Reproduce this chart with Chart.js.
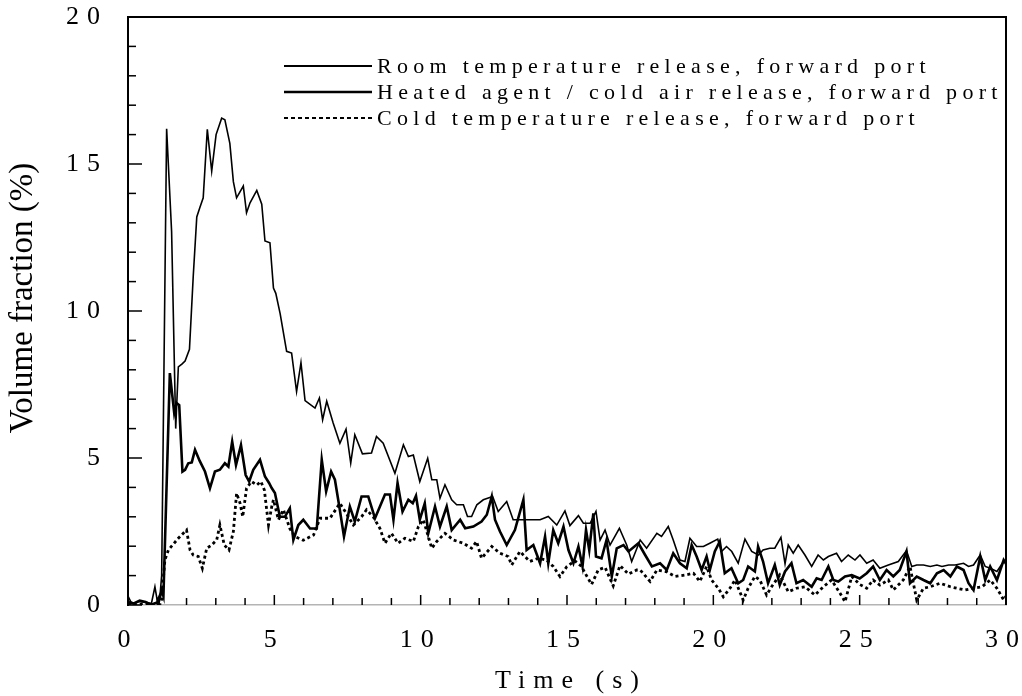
<!DOCTYPE html>
<html lang="en">
<head>
    <meta charset="UTF-8">
    <title>Volume fraction vs time</title>
    <script src="https://cdn.jsdelivr.net/npm/chart.js"></script>
    <style>
        html, body { margin: 0; padding: 0; background: #fff; }
        #wrap { width: 1022px; height: 696px; }
    </style>
</head>
<body>
    <div id="wrap"><canvas id="chart" width="1022" height="696"></canvas></div>

    <script>
// Series: time (s) and volume fraction (%)
const roomTime = [0, 0.1, 0.2, 0.35, 0.5, 0.65, 0.8, 0.92, 1.0, 1.1, 1.15, 1.32, 1.49, 1.63, 1.72, 1.85, 1.95, 2.1, 2.23, 2.35, 2.45, 2.57, 2.71, 2.86, 3.01, 3.2, 3.31, 3.48, 3.6, 3.71, 3.94, 4.05, 4.17, 4.4, 4.57, 4.68, 4.85, 4.97, 5.05, 5.2, 5.42, 5.59, 5.76, 5.91, 6.05, 6.39, 6.54, 6.65, 6.79, 7.01, 7.24, 7.45, 7.61, 7.75, 8.01, 8.32, 8.49, 8.72, 9.12, 9.41, 9.58, 9.75, 9.97, 10.24, 10.38, 10.55, 10.66, 10.83, 11.06, 11.23, 11.46, 11.6, 11.74, 11.92, 12.14, 12.46, 12.65, 12.94, 13.16, 13.39, 13.68, 14.08, 14.36, 14.65, 14.93, 15.1, 15.39, 15.56, 15.79, 15.99, 16.13, 16.3, 16.47, 16.79, 17.04, 17.21, 17.5, 17.72, 18.07, 18.23, 18.46, 18.63, 18.86, 19.03, 19.2, 19.43, 19.66, 19.88, 20.15, 20.28, 20.45, 20.63, 20.85, 21.08, 21.31, 21.54, 21.7, 21.93, 22.1, 22.31, 22.45, 22.56, 22.73, 22.9, 23.13, 23.36, 23.58, 23.76, 23.93, 24.21, 24.38, 24.61, 24.84, 25.01, 25.24, 25.46, 25.69, 25.98, 26.32, 26.6, 26.78, 26.95, 27.18, 27.41, 27.64, 27.81, 28.04, 28.26, 28.55, 28.72, 28.89, 29.12, 29.29, 29.46, 29.69, 29.92, 30];
const roomVals = [0.3, 0.1, 0.05, 0.12, 0.1, 0.08, 0.05, 0.62, 0.15, 0.4, 1.0, 16.2, 12.7, 6.0, 8.1, 8.2, 8.3, 8.7, 11.2, 13.2, 13.5, 13.85, 16.18, 14.76, 16.0, 16.56, 16.5, 15.7, 14.4, 13.85, 14.25, 13.34, 13.68, 14.1, 13.63, 12.38, 12.32, 10.78, 10.6, 9.9, 8.63, 8.57, 7.26, 8.24, 6.95, 6.7, 7.04, 6.3, 6.93, 6.19, 5.5, 5.98, 4.83, 5.79, 5.14, 5.17, 5.73, 5.5, 4.48, 5.45, 5.05, 5.1, 4.2, 4.99, 4.26, 4.26, 3.63, 4.09, 3.58, 3.41, 3.41, 3.01, 3.01, 3.41, 3.58, 3.69, 3.18, 3.52, 2.9, 2.9, 2.9, 2.9, 3.01, 2.72, 3.2, 2.7, 3.04, 2.78, 2.78, 3.18, 2.21, 2.55, 2.04, 2.61, 2.04, 1.48, 2.21, 1.93, 2.44, 2.33, 2.67, 2.21, 1.53, 1.48, 2.27, 1.99, 1.99, 2.1, 2.24, 1.82, 1.99, 1.82, 1.42, 2.24, 1.82, 1.7, 1.87, 1.93, 1.93, 2.3, 1.4, 2.04, 1.76, 2.04, 1.7, 1.31, 1.7, 1.53, 1.65, 1.76, 1.48, 1.7, 1.53, 1.7, 1.42, 1.53, 1.25, 1.36, 1.48, 1.85, 1.31, 1.36, 1.36, 1.31, 1.36, 1.31, 1.36, 1.36, 1.42, 1.31, 1.36, 1.7, 1.31, 1.25, 1.14, 1.48, 1.5];

const heatedTime = [0, 0.2, 0.4, 0.6, 0.8, 0.9, 1.05, 1.15, 1.21, 1.43, 1.58, 1.66, 1.75, 1.86, 1.95, 2.06, 2.18, 2.29, 2.45, 2.63, 2.8, 2.97, 3.14, 3.31, 3.43, 3.56, 3.69, 3.86, 4.02, 4.14, 4.28, 4.51, 4.68, 4.82, 4.91, 5.02, 5.19, 5.36, 5.53, 5.65, 5.82, 5.99, 6.22, 6.45, 6.62, 6.77, 6.94, 7.07, 7.22, 7.38, 7.58, 7.75, 7.98, 8.21, 8.44, 8.78, 8.95, 9.07, 9.21, 9.38, 9.58, 9.73, 9.84, 9.97, 10.14, 10.26, 10.49, 10.66, 10.89, 11.06, 11.35, 11.52, 11.8, 12.08, 12.26, 12.43, 12.54, 12.71, 12.94, 13.22, 13.51, 13.62, 13.85, 14.08, 14.25, 14.36, 14.53, 14.7, 14.88, 15.05, 15.22, 15.39, 15.53, 15.65, 15.76, 15.9, 15.99, 16.18, 16.35, 16.53, 16.7, 16.93, 17.1, 17.44, 17.67, 17.9, 18.18, 18.41, 18.63, 18.86, 19.09, 19.26, 19.43, 19.6, 19.77, 19.88, 20.05, 20.22, 20.39, 20.62, 20.85, 21.02, 21.19, 21.42, 21.53, 21.7, 21.87, 22.1, 22.27, 22.45, 22.67, 22.84, 23.07, 23.36, 23.53, 23.7, 23.93, 24.1, 24.27, 24.5, 24.73, 25.0, 25.24, 25.46, 25.69, 25.92, 26.15, 26.37, 26.6, 26.72, 26.95, 27.18, 27.41, 27.64, 27.87, 28.1, 28.32, 28.55, 28.72, 28.89, 29.12, 29.29, 29.46, 29.69, 29.92, 30];
const heatedVals = [0.1, 0.05, 0.15, 0.1, 0.0, 0.05, 0.1, 0.5, 0.3, 7.89, 6.53, 6.87, 6.8, 4.54, 4.6, 4.82, 4.85, 5.28, 4.9, 4.54, 3.97, 4.54, 4.6, 4.82, 4.71, 5.56, 4.76, 5.44, 4.42, 4.2, 4.6, 4.94, 4.37, 4.15, 3.98, 3.81, 3.0, 3.0, 3.29, 2.21, 2.72, 2.9, 2.6, 2.6, 4.94, 3.86, 4.54, 4.26, 3.35, 2.33, 3.35, 2.84, 3.69, 3.69, 2.95, 3.76, 3.76, 2.9, 4.15, 3.18, 3.58, 3.46, 3.71, 2.9, 3.46, 2.44, 3.35, 2.67, 3.35, 2.55, 2.9, 2.61, 2.67, 2.84, 3.07, 3.69, 2.9, 2.5, 2.04, 2.55, 3.58, 1.87, 2.04, 1.42, 2.33, 1.42, 2.55, 2.1, 2.67, 1.87, 1.42, 1.99, 1.31, 2.55, 1.87, 3.12, 1.65, 1.59, 2.21, 0.97, 1.93, 2.04, 1.82, 2.1, 1.7, 1.31, 1.42, 1.19, 1.76, 1.42, 1.25, 2.04, 1.65, 1.19, 1.65, 1.19, 1.82, 2.16, 1.08, 1.25, 0.74, 0.85, 1.31, 1.14, 1.99, 1.48, 0.74, 1.36, 0.68, 1.14, 1.42, 0.74, 0.85, 0.62, 0.91, 0.85, 1.31, 0.85, 0.8, 0.97, 1.02, 0.9, 1.08, 1.31, 0.85, 1.19, 0.97, 1.19, 1.82, 0.74, 0.97, 0.85, 0.74, 1.08, 1.19, 0.97, 1.31, 1.19, 0.74, 0.51, 1.65, 0.85, 1.31, 0.85, 1.53, 1.4];

const coldTime = [0, 0.3, 0.6, 0.9, 1.1, 1.15, 1.26, 1.38, 1.49, 1.72, 2.0, 2.12, 2.23, 2.4, 2.54, 2.69, 2.86, 3.03, 3.14, 3.29, 3.45, 3.6, 3.71, 3.83, 3.92, 4.05, 4.22, 4.4, 4.54, 4.66, 4.8, 4.91, 4.97, 5.14, 5.31, 5.53, 5.7, 5.99, 6.34, 6.56, 6.9, 7.24, 7.47, 7.7, 7.98, 8.15, 8.38, 8.61, 8.78, 9.0, 9.23, 9.46, 9.75, 9.92, 10.09, 10.38, 10.55, 10.83, 11.12, 11.46, 11.74, 11.91, 12.08, 12.43, 12.71, 12.99, 13.11, 13.39, 13.73, 14.02, 14.3, 14.53, 14.76, 14.99, 15.27, 15.5, 15.62, 15.84, 16.07, 16.3, 16.58, 16.81, 17.1, 17.38, 17.5, 17.84, 18.07, 18.41, 18.69, 19.03, 19.32, 19.54, 19.77, 19.94, 20.17, 20.34, 20.57, 20.74, 21.02, 21.19, 21.42, 21.59, 21.82, 21.99, 22.27, 22.56, 22.84, 23.13, 23.47, 23.76, 24.04, 24.33, 24.5, 24.73, 25.0, 25.24, 25.46, 25.69, 25.98, 26.15, 26.49, 26.72, 26.95, 27.18, 27.41, 27.75, 28.1, 28.32, 28.61, 28.89, 29.18, 29.46, 29.69, 29.92, 30];
const coldVals = [0.05, 0.0, 0.05, 0.0, 0.05, 0.2, 1.53, 1.87, 2.0, 2.27, 2.55, 1.87, 1.7, 1.65, 1.25, 1.93, 2.04, 2.21, 2.72, 2.04, 1.87, 2.5, 3.8, 3.46, 3.0, 3.97, 4.2, 4.08, 4.2, 3.91, 2.72, 3.34, 3.58, 2.9, 3.24, 2.6, 2.33, 2.2, 2.38, 2.95, 2.95, 3.46, 3.1, 2.72, 3.0, 3.24, 3.0, 2.6, 2.1, 2.44, 2.1, 2.27, 2.16, 2.66, 2.9, 1.93, 2.16, 2.44, 2.21, 2.1, 1.93, 2.16, 1.59, 1.99, 1.76, 1.65, 1.36, 1.82, 1.48, 1.59, 1.53, 1.31, 0.97, 1.3, 1.5, 1.31, 1.08, 0.7, 1.2, 1.28, 0.65, 1.34, 1.05, 1.19, 1.19, 0.8, 1.19, 1.13, 0.97, 1.02, 1.08, 0.8, 1.31, 0.85, 0.57, 0.28, 0.57, 0.85, 0.17, 0.57, 0.97, 0.85, 0.34, 0.62, 1.02, 0.45, 0.57, 0.62, 0.34, 0.62, 0.85, 0.4, 0.11, 0.97, 0.7, 0.57, 0.85, 0.68, 0.85, 0.51, 0.85, 1.31, 0.17, 0.57, 0.62, 0.74, 0.62, 0.57, 0.51, 0.57, 0.62, 0.85, 0.57, 0.17, 0.3];

const seriesNames = [
    'Room temperature release, forward port',
    'Heated agent / cold air release, forward port',
    'Cold temperature release, forward port'
];

const xTickValues = [0, 5, 10, 15, 20, 25, 30];
const yTickValues = [0, 5, 10, 15, 20];

function toPoints(times, vals) {
    return times.map((t, i) => ({ x: t, y: vals[i] }));
}

// keep the plot box where the figure has it
function fixSize(scale, w, h) {
    if (w) scale.width = w;
    if (h) scale.height = h;
    scale.paddingLeft = 0;
    scale.paddingRight = 0;
    scale.paddingTop = 0;
    scale.paddingBottom = 0;
}

// Inward tick marks, box frame, axis titles and legend
const decorPlugin = {
    id: 'decor',
    beforeDraw(chart) {
        chart.ctx.letterSpacing = '8px';
    },
    afterDraw(chart) {
        const ctx = chart.ctx;
        const area = chart.chartArea;
        const xs = chart.scales.x;
        const ys = chart.scales.y;
        ctx.save();
        ctx.letterSpacing = '0px';
        ctx.strokeStyle = '#000';

        // frame: top and right
        ctx.lineWidth = 2;
        ctx.beginPath();
        ctx.moveTo(area.left, area.top);
        ctx.lineTo(area.right, area.top);
        ctx.lineTo(area.right, area.bottom);
        ctx.stroke();

        // y ticks every 1, longer at labelled values
        ctx.lineWidth = 1.5;
        for (let v = 0; v <= 20; v++) {
            const y = ys.getPixelForValue(v);
            const len = v % 5 === 0 ? 14 : 8;
            ctx.beginPath();
            ctx.moveTo(area.left, y);
            ctx.lineTo(area.left + len, y);
            ctx.stroke();
        }
        // x ticks every 1 s
        for (let t = 0; t <= 30; t++) {
            const x = xs.getPixelForValue(t);
            const len = t % 5 === 0 ? 10 : 7;
            ctx.beginPath();
            ctx.moveTo(x, area.bottom);
            ctx.lineTo(x, area.bottom - len);
            ctx.stroke();
        }

        // axis titles
        ctx.fillStyle = '#000';
        ctx.font = '33px "Liberation Serif"';
        ctx.textAlign = 'center';
        ctx.textBaseline = 'middle';
        ctx.save();
        ctx.translate(23, 298);
        ctx.rotate(-Math.PI / 2);
        ctx.fillText('Volume fraction (%)', 0, 0);
        ctx.restore();

        ctx.font = '26px "Liberation Serif"';
        ctx.letterSpacing = '8px';
        ctx.fillText('Time (s)', (area.left + area.right) / 2 + 4, 681);

        // legend
        ctx.font = '22px "Liberation Serif"';
        ctx.letterSpacing = '5.3px';
        ctx.textAlign = 'left';
        chart.data.datasets.forEach((ds, i) => {
            const y = 66 + i * 26;
            ctx.save();
            ctx.letterSpacing = '0px';
            ctx.lineWidth = i === 1 ? 2.5 : 2;
            ctx.setLineDash(i === 2 ? [4, 3] : []);
            ctx.beginPath();
            ctx.moveTo(284, y);
            ctx.lineTo(372, y);
            ctx.stroke();
            ctx.restore();
            ctx.fillText(ds.label, 377, y + 1);
        });
        ctx.restore();
        ctx.letterSpacing = '0px';
    }
};

new Chart(document.getElementById('chart'), {
    type: 'line',
    data: {
        datasets: [
            {
                label: seriesNames[0],
                data: toPoints(roomTime, roomVals),
                borderColor: '#000',
                borderWidth: 1.6
            },
            {
                label: seriesNames[1],
                data: toPoints(heatedTime, heatedVals),
                borderColor: '#000',
                borderWidth: 2.6
            },
            {
                label: seriesNames[2],
                data: toPoints(coldTime, coldVals),
                borderColor: '#000',
                borderWidth: 2.8,
                borderDash: [3, 3]
            }
        ]
    },
    options: {
        responsive: false,
        animation: false,
        layout: { padding: { top: 17, right: 16, left: 0, bottom: 0 } },
        elements: {
            point: { radius: 0 },
            line: { tension: 0, fill: false }
        },
        scales: {
            x: {
                type: 'linear',
                min: 0,
                max: 30,
                afterFit(scale) { fixSize(scale, 0, 91); },
                afterBuildTicks(scale) { scale.ticks = xTickValues.map(v => ({ value: v })); },
                grid: { display: false, drawTicks: false },
                border: { display: true, color: '#b4b4b4', width: 1.5 },
                ticks: {
                    color: '#000',
                    padding: 20,
                    maxRotation: 0,
                    font: { family: '"Liberation Serif"', size: 26 }
                }
            },
            y: {
                min: 0,
                max: 20,
                afterFit(scale) { fixSize(scale, 128, 0); },
                afterBuildTicks(scale) { scale.ticks = yTickValues.map(v => ({ value: v })); },
                grid: { display: false, drawTicks: false },
                border: { display: true, color: '#000', width: 2 },
                ticks: {
                    color: '#000',
                    padding: 20,
                    font: { family: '"Liberation Serif"', size: 26 }
                }
            }
        },
        plugins: {
            legend: { display: false },
            tooltip: { enabled: false }
        }
    },
    plugins: [decorPlugin]
});
    </script>
</body>
</html>
